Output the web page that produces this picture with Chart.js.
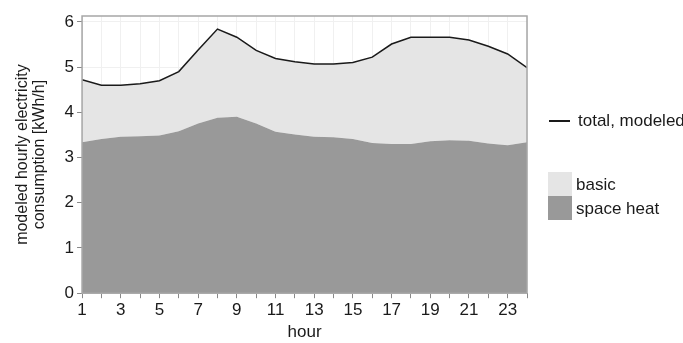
<!DOCTYPE html>
<html lang="en">
<head>
    <meta charset="UTF-8">
    <title>Modeled hourly electricity consumption</title>
    <script src="https://cdn.jsdelivr.net/npm/chart.js"></script>
    <style>
        body {
            margin: 0;
            background-color: #ffffff;
            font-family: "Liberation Sans", Arial, sans-serif;
            overflow: hidden;
        }
        #wrap {
            position: relative;
            width: 683px;
            height: 343px;
        }
        .leg-text {
            position: absolute;
            font-size: 17px;
            color: #1a1a1a;
            line-height: 20px;
            white-space: nowrap;
        }
        .leg-box {
            position: absolute;
            width: 24px;
            height: 24px;
        }
    </style>
</head>
<body>
    <div id="wrap">
        <canvas id="chart1" width="683" height="343"></canvas>
        <div style="position:absolute; left:549px; top:120px; width:21px; height:1.5px; background:#1a1a1a;"></div>
        <div class="leg-text" style="left:578px; top:111px;">total, modeled</div>
        <div class="leg-box" style="left:548px; top:172px; background:#e5e5e5;"></div>
        <div class="leg-box" style="left:548px; top:196px; background:#999999;"></div>
        <div class="leg-text" style="left:576px; top:175px;">basic</div>
        <div class="leg-text" style="left:576px; top:199px;">space heat</div>
    </div>

    <script>
        // datos
        const hours = [1,2,3,4,5,6,7,8,9,10,11,12,13,14,15,16,17,18,19,20,21,22,23,24];
        const totalModeled = [4.72,4.60,4.60,4.63,4.70,4.90,5.38,5.84,5.66,5.37,5.19,5.12,5.07,5.07,5.10,5.22,5.51,5.66,5.66,5.66,5.60,5.46,5.29,4.99];
        const spaceHeat = [3.34,3.41,3.46,3.47,3.49,3.58,3.75,3.88,3.90,3.75,3.57,3.51,3.46,3.45,3.41,3.32,3.30,3.30,3.36,3.38,3.37,3.31,3.27,3.34];
        const yTicks = [0,1,2,3,4,5,6];

        const textColor = '#1a1a1a';
        const faintGrid = '#f0f0f0';

        // marco gris alrededor del panel
        const panelBorder = {
            id: 'panelBorder',
            afterDatasetsDraw(chart) {
                const a = chart.chartArea;
                const c = chart.ctx;
                c.save();
                c.strokeStyle = '#a6a6a6';
                c.lineWidth = 1.5;
                c.strokeRect(a.left, a.top, a.right - a.left, a.bottom - a.top);
                c.restore();
            }
        };

        const ctx = document.getElementById('chart1').getContext('2d');
        new Chart(ctx, {
            type: 'line',
            data: {
                datasets: [{
                    label: 'space heat',
                    data: hours.map((h, i) => ({x: h, y: spaceHeat[i]})),
                    backgroundColor: '#999999',
                    borderWidth: 0,
                    pointRadius: 0,
                    fill: 'origin'
                }, {
                    label: 'total, modeled',
                    data: hours.map((h, i) => ({x: h, y: totalModeled[i]})),
                    backgroundColor: '#e5e5e5',
                    borderColor: '#1a1a1a',
                    borderWidth: 1.5,
                    pointRadius: 0,
                    fill: '-1'
                }]
            },
            plugins: [panelBorder],
            options: {
                responsive: false,
                animation: false,
                layout: {
                    padding: {left: 14, right: 156, top: 16, bottom: 0}
                },
                scales: {
                    x: {
                        type: 'linear',
                        min: 1,
                        max: 24,
                        border: {display: false},
                        grid: {
                            color: faintGrid,
                            tickColor: '#888888',
                            tickLength: 5
                        },
                        ticks: {
                            stepSize: 1,
                            autoSkip: false,
                            maxRotation: 0,
                            color: textColor,
                            padding: 2,
                            font: {family: 'Liberation Sans', size: 17},
                            callback: v => (v % 2 === 1 ? v : '')
                        },
                        title: {
                            display: true,
                            text: 'hour',
                            color: textColor,
                            padding: {top: 0, bottom: 0},
                            font: {family: 'Liberation Sans', size: 17}
                        }
                    },
                    y: {
                        min: 0,
                        max: 6.13,
                        border: {display: false},
                        afterBuildTicks: scale => {
                            // ticks enteros y lineas finas a mitad de camino
                            const t = [];
                            yTicks.forEach(v => {
                                t.push({value: v});
                                if (v < 6) t.push({value: v + 0.5});
                            });
                            scale.ticks = t;
                        },
                        grid: {
                            color: faintGrid,
                            tickColor: c => (yTicks.includes(c.tick.value) ? '#888888' : 'rgba(0,0,0,0)'),
                            tickLength: 5
                        },
                        ticks: {
                            color: textColor,
                            padding: 3,
                            font: {family: 'Liberation Sans', size: 17},
                            callback: v => (yTicks.includes(v) ? v : '')
                        },
                        title: {
                            display: true,
                            text: ['modeled hourly electricity', 'consumption [kWh/h]'],
                            color: textColor,
                            padding: {top: 0, bottom: 14},
                            font: {family: 'Liberation Sans', size: 16, lineHeight: 1.05}
                        }
                    }
                },
                plugins: {
                    legend: {display: false},
                    tooltip: {enabled: false}
                }
            }
        });
    </script>
</body>
</html>
